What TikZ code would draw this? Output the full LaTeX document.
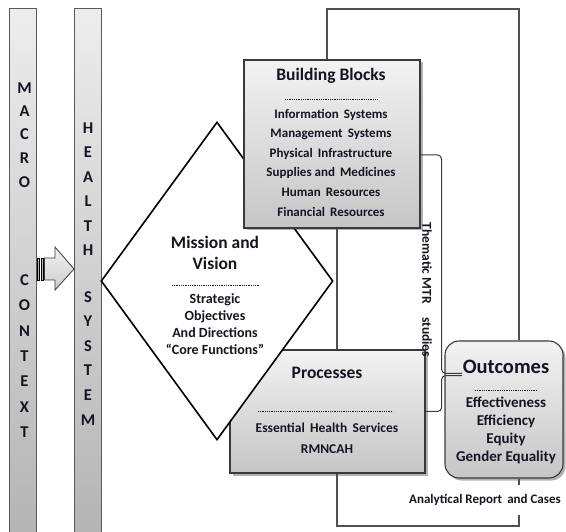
\documentclass[tikz,border=0pt]{standalone}
\usepackage{fontspec}
\setmainfont{Carlito}
\usetikzlibrary{shapes.geometric,shadows}

\definecolor{ink}{HTML}{15151F}
\definecolor{edge}{HTML}{3A3A3A}
\definecolor{wire}{HTML}{505050}

\tikzset{
  panel/.style={draw=edge, line width=1.1pt, top color=gray!10, bottom color=gray!45,
    drop shadow={shadow xshift=2.5pt, shadow yshift=-2.5pt, opacity=0.3, fill=black}},
  column/.style={draw=gray!70!black, line width=0.9pt, top color=gray!14, bottom color=gray!60,
    inner sep=0pt, minimum width=27pt, minimum height=540pt, anchor=north},
  letter/.style={font=\fontsize{16.5}{16.5}\selectfont\bfseries, text=ink, inner sep=0pt},
  title/.style={font=\fontsize{17.5}{21}\selectfont\bfseries, text=ink, align=center, inner sep=0pt},
  item/.style={font=\fontsize{13}{19.6}\selectfont\bfseries, text=ink, align=center, inner sep=0pt},
  separator/.style={draw=ink, line width=0.9pt, dash pattern=on 0.6pt off 1.2pt},
  link/.style={draw=edge, line width=1pt, rounded corners=4pt},
  frame/.style={draw=wire, line width=1.2pt},
}

\begin{document}
\begin{tikzpicture}[x=1pt, y=-1pt]
\path[use as bounding box] (0,0) rectangle (566,532);
\clip (0,0) rectangle (566,532);

% the two vertical bands
\node[column] (macro)  at (23,8) {};
\node[column] (health) at (87.5,8) {};

% MACRO / CONTEXT
\foreach \ch/\yy [count=\i] in {M/88,A/111,C/134.5,R/158,O/182,
    C/280,O/305.5,N/331,T/356,E/381.5,X/407,T/432.5}
  \node[letter] (mc\i) at (24.5,\yy) {\ch};

% HEALTH / SYSTEM
\foreach \ch/\yy [count=\i] in {H/128,E/152.5,A/177,L/201.5,T/226,H/250,
    S/297,Y/321.5,S/346,T/370.5,E/395,M/420}
  \node[letter] (hs\i) at (88,\yy) {\ch};

% striped block arrow between the bands
\path[draw=edge, line width=0.8pt, top color=gray!10, bottom color=gray!40]
  (44.5,258) -- (55,258) -- (55,247) -- (74,269) -- (55,290) -- (55,280) -- (44.5,280) -- cycle;
\path[draw=black, line width=0.6pt, fill=gray!60] (37.5,258) rectangle (39.5,280);
\path[draw=black, line width=0.6pt, fill=gray!60] (41,258) rectangle (43,280);

% Processes (under the diamond)
\node[panel, minimum width=195pt, minimum height=123pt, inner sep=0pt] (proc) at (327.5,411.5) {};
\node[title] (proct) at (327,373) {Processes};
\draw[separator] (258,411) -- (393,411);
\node[item, font=\fontsize{13.5}{21}\selectfont\bfseries] (procl) at (327,438.5)
  {Essential\, Health\, Services\\RMNCAH};

% Mission and Vision diamond
\node[diamond, draw=black, line width=1.6pt, fill=white, inner sep=0pt,
  minimum width=232pt, minimum height=318pt] (mission) at (217,281) {};
\node[title] (missiont) at (215,252.5) {Mission and\\Vision};
\draw[separator] (172,285) -- (259,285);
\node[item, font=\fontsize{14}{17}\selectfont\bfseries] (missionl) at (215,324.5)
  {Strategic\\Objectives\\And Directions\\“Core Functions”};

% Building Blocks
\node[panel, minimum width=176pt, minimum height=168pt, inner sep=0pt] (bb) at (332,144) {};
\node[title] (bbt) at (331,76) {Building Blocks};
\draw[separator] (285,99) -- (377,99);
\node[item] (bbl) at (331,162.5)
  {Information\, Systems\\Management\, Systems\\Physical\, Infrastructure\\
   Supplies and\, Medicines\\Human\, Resources\\Financial\, Resources};

% Outcomes
\node[panel, rounded corners=14pt, minimum width=118pt, minimum height=137pt, inner sep=0pt]
  (out) at (504,409.5) {};
\node[title, font=\fontsize{20.5}{24}\selectfont\bfseries] (outt) at (506,367) {Outcomes};
\draw[separator] (475,390) -- (537,390);
\node[item, font=\fontsize{15}{17.8}\selectfont\bfseries] (outl) at (506,430.5)
  {Effectiveness\\Efficiency\\Equity\\Gender Equality};

% labels on the loops
\node[item, font=\fontsize{13.5}{16}\selectfont\bfseries, rotate=-90] (mtr) at (427,290)
  {Thematic MTR\quad studies};
\node[item, inner ysep=9pt] (report) at (485,500) {Analytical Report\, and Cases};

% loop coordinates
\coordinate (tl) at (327,9);
\coordinate (tr) at (519,9);
\coordinate (bl) at (337,526);
\coordinate (br) at (519,526);
\coordinate (hub) at (462,374.5);

% outer loops
\draw[frame] (bb.north -| tl) -- (tl) -- (tr) -- (tr |- out.north);
\draw[frame] (bb.south -| bl) -- (bl |- proc.north);
\draw[frame] (proc.south -| bl) -- (bl) -- (br) -- (br |- report.south);
\draw[frame] (report.north -| br) -- (br |- out.south);

% feeds into Outcomes
\draw[link] ([yshift=-11pt]bb.east) -- ++(21,0) |- ([yshift=1.2pt]hub);
\draw[link] (proc.east) -- ++(16,0) |- ([yshift=-1.2pt]hub);
\end{tikzpicture}
\end{document}
